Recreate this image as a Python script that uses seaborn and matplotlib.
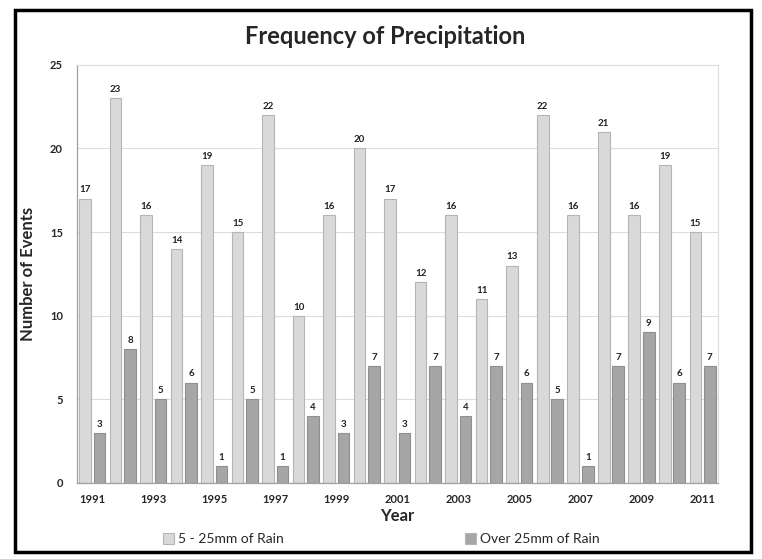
import matplotlib
matplotlib.use("Agg")
import matplotlib.pyplot as plt
from matplotlib.patches import Rectangle
import seaborn as sns
import pandas as pd

years = list(range(1991, 2012))
light_rain = [17, 23, 16, 14, 19, 15, 22, 10, 16, 20, 17, 12, 16, 11, 13, 22, 16, 21, 16, 19, 15]
heavy_rain = [3, 8, 5, 6, 1, 5, 1, 4, 3, 7, 3, 7, 4, 7, 6, 5, 1, 7, 9, 6, 7]
series_names = ["5 - 25mm of Rain", "Over 25mm of Rain"]

df = pd.DataFrame({
    "Year": [str(y) for y in years] * 2,
    "Events": light_rain + heavy_rain,
    "Series": [series_names[0]] * len(years) + [series_names[1]] * len(years),
})

sns.set_style("white")
plt.rcParams["font.family"] = ["Lato", "DejaVu Sans"]

fig = plt.figure(figsize=(7.62, 5.59), dpi=100)
ax = fig.add_axes([0.101, 0.136, 0.841, 0.748])

sns.barplot(
    data=df, x="Year", y="Events", hue="Series",
    palette=["#d9d9d9", "#a6a6a6"], width=0.95, gap=0.2,
    edgecolor="#b5b5b5", linewidth=0.8, ax=ax, legend=True,
)
for bar in ax.containers[1]:
    bar.set_edgecolor("#8f8f8f")

for cont in ax.containers:
    ax.bar_label(cont, padding=3, fontsize=7, fontweight="bold", color="#222222")

ax.set_ylim(0, 25)
ax.set_xlim(-0.5, len(years) - 0.5)
ax.set_yticks([0, 5, 10, 15, 20, 25])
ax.yaxis.grid(True, color="#dcdcdc", linewidth=0.8)
ax.set_axisbelow(True)

ax.set_xticks(range(0, len(years), 2))
ax.set_xticklabels([str(y) for y in years[::2]])
ax.set_xticks([i - 0.5 for i in range(len(years) + 1)], minor=True)
ax.tick_params(axis="x", which="major", length=0, pad=8, labelsize=8)
ax.tick_params(axis="x", which="minor", length=4, color="#a0a0a0", direction="out", width=0.8)
ax.tick_params(axis="y", length=4, color="#a0a0a0", labelsize=8, pad=6)
for lab in ax.get_xticklabels() + ax.get_yticklabels():
    lab.set_fontweight("bold")

for side in ["left", "bottom"]:
    ax.spines[side].set_color("#a0a0a0")
    ax.spines[side].set_linewidth(0.9)
for side in ["top", "right"]:
    ax.spines[side].set_color("#dcdcdc")
    ax.spines[side].set_linewidth(0.8)

ax.set_xlabel("Year", fontsize=12, fontweight="bold", labelpad=2)
ax.set_ylabel("Number of Events", fontsize=12, fontweight="bold", labelpad=10)
fig.suptitle("Frequency of Precipitation", fontsize=17, fontweight="bold", x=0.505, y=0.955)

ax.legend(loc="upper center", bbox_to_anchor=(0.475, -0.09), ncol=2, frameon=False,
          fontsize=10, handlelength=0.8, handleheight=0.8, handletextpad=0.3, columnspacing=13)

fig.patches.append(Rectangle((0.02, 0.012), 0.965, 0.97, transform=fig.transFigure,
                             fill=False, edgecolor="black", linewidth=2.5))

fig.savefig("out.png", dpi=100, facecolor="white")
